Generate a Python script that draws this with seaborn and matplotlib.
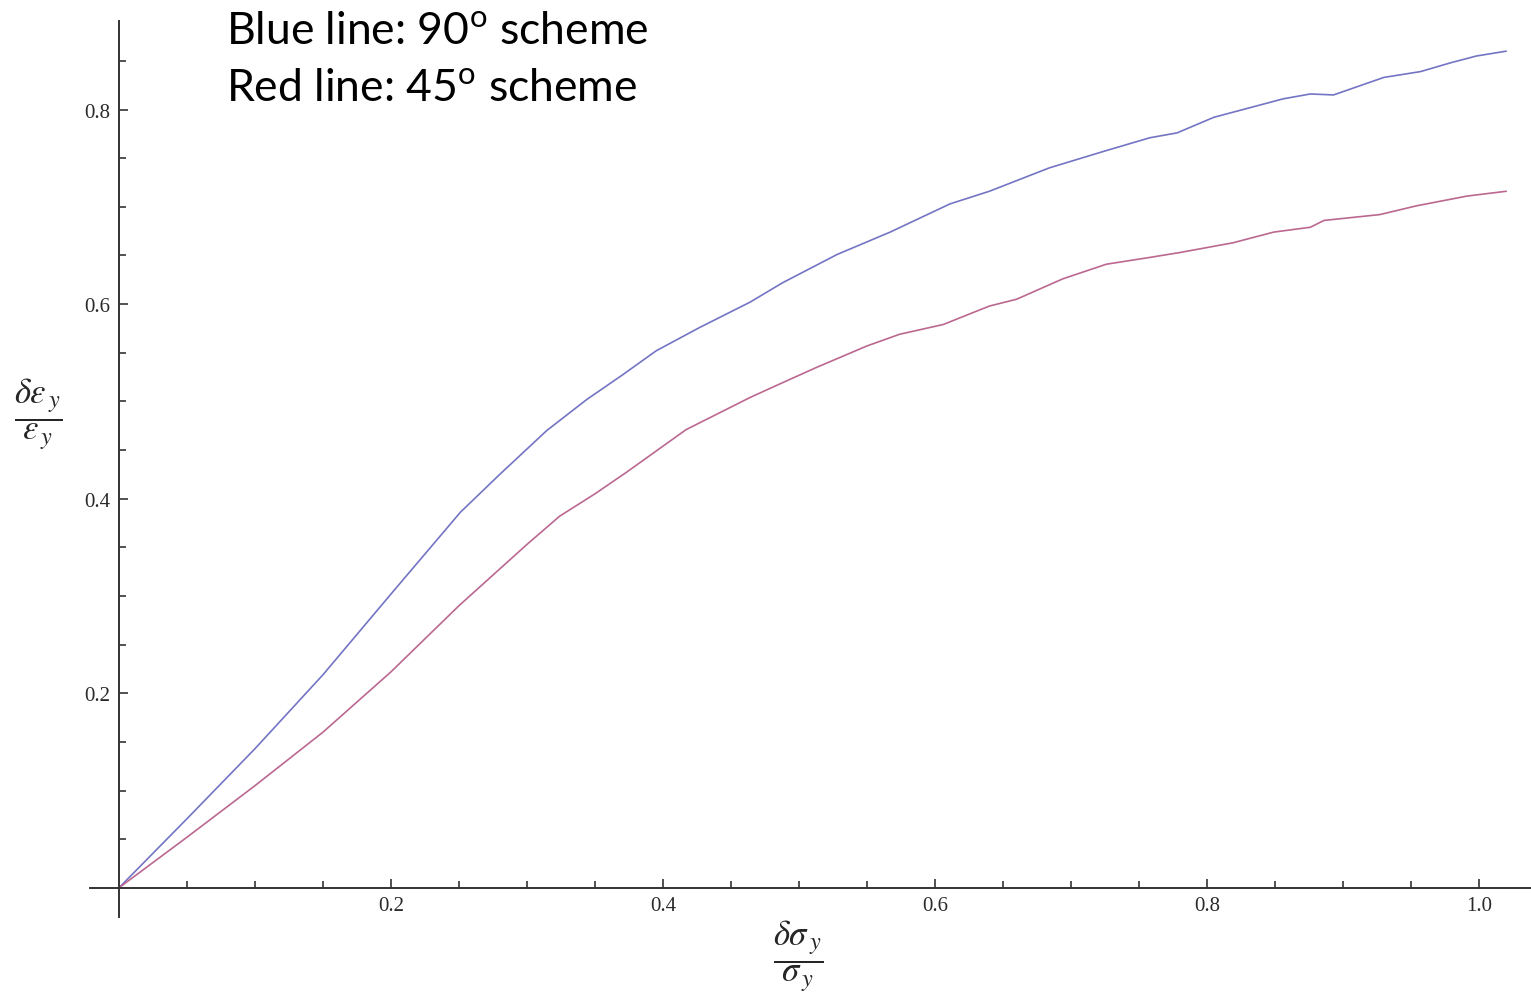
import matplotlib
matplotlib.use("Agg")
import matplotlib.pyplot as plt
import seaborn as sns
import pandas as pd
from matplotlib.ticker import FixedLocator, FixedFormatter

# values
blue_x = [0.0, 0.05, 0.10, 0.15, 0.20, 0.251, 0.280, 0.3145, 0.344, 0.370, 0.395,
          0.427, 0.464, 0.488, 0.528, 0.567, 0.611, 0.640, 0.684, 0.724, 0.758, 0.778,
          0.805, 0.856, 0.876, 0.893, 0.930, 0.957, 0.979, 0.998, 1.020]
blue_y = [0.0, 0.071, 0.143, 0.219, 0.302, 0.386, 0.425, 0.470, 0.502, 0.527, 0.552,
          0.576, 0.602, 0.622, 0.651, 0.674, 0.703, 0.716, 0.740, 0.757, 0.771, 0.776,
          0.792, 0.811, 0.816, 0.815, 0.833, 0.839, 0.848, 0.855, 0.860]

red_x = [0.0, 0.05, 0.10, 0.15, 0.20, 0.25, 0.30, 0.324, 0.350, 0.373, 0.417, 0.464,
         0.486, 0.513, 0.550, 0.574, 0.606, 0.640, 0.660, 0.694, 0.726, 0.758, 0.780,
         0.819, 0.849, 0.876, 0.886, 0.927, 0.954, 0.991, 1.020]
red_y = [0.0, 0.052, 0.105, 0.160, 0.222, 0.290, 0.353, 0.382, 0.405, 0.427, 0.471, 0.504,
         0.518, 0.535, 0.557, 0.569, 0.579, 0.598, 0.605, 0.626, 0.641, 0.648, 0.653,
         0.663, 0.674, 0.679, 0.686, 0.692, 0.701, 0.711, 0.716]

x_ticks = [0.2, 0.4, 0.6, 0.8, 1.0]
x_tick_labels = ["0.2", "0.4", "0.6", "0.8", "1.0"]
y_ticks = [0.2, 0.4, 0.6, 0.8]
y_tick_labels = ["0.2", "0.4", "0.6", "0.8"]
x_minor = [0.05, 0.1, 0.15, 0.25, 0.3, 0.35, 0.45, 0.5, 0.55, 0.65, 0.7, 0.75, 0.85, 0.9, 0.95]
y_minor = [0.05, 0.1, 0.15, 0.25, 0.3, 0.35, 0.45, 0.5, 0.55, 0.65, 0.7, 0.75, 0.85]

sns.set_theme(style="white")
plt.rcParams["font.family"] = ["Lato", "DejaVu Sans"]
plt.rcParams["mathtext.fontset"] = "custom"
plt.rcParams["mathtext.rm"] = "Lato"

df = pd.concat([
    pd.DataFrame({"x": blue_x, "y": blue_y, "scheme": "90"}),
    pd.DataFrame({"x": red_x, "y": red_y, "scheme": "45"}),
])

fig = plt.figure(figsize=(15.31, 10.03), dpi=100)
ax = fig.add_axes([90 / 1531, 85 / 1003, 1441 / 1531, 896 / 1003])

sns.lineplot(data=df, x="x", y="y", hue="scheme", estimator=None, sort=False,
             palette={"90": "#7474c4", "45": "#bb6890"}, linewidth=1.2,
             legend=False, ax=ax)

ax.set_xlim(-0.0213, 1.0382)
ax.set_ylim(-0.030, 0.891)
ax.set_xlabel("")
ax.set_ylabel("")

for side in ["top", "right"]:
    ax.spines[side].set_visible(False)
for side in ["left", "bottom"]:
    ax.spines[side].set_position(("data", 0))
    ax.spines[side].set_color("#333333")
    ax.spines[side].set_linewidth(1.4)

ax.xaxis.set_major_locator(FixedLocator(x_ticks))
ax.xaxis.set_major_formatter(FixedFormatter(x_tick_labels))
ax.xaxis.set_minor_locator(FixedLocator(x_minor))
ax.yaxis.set_major_locator(FixedLocator(y_ticks))
ax.yaxis.set_major_formatter(FixedFormatter(y_tick_labels))
ax.yaxis.set_minor_locator(FixedLocator(y_minor))

ax.tick_params(which="both", direction="in", color="#333333", width=1.2,
               bottom=True, left=True, labelcolor="#2a2a2a",
               labelsize=15, labelfontfamily="Liberation Serif")
ax.tick_params(which="major", length=6.5)
ax.tick_params(which="minor", length=5)
ax.tick_params(axis="x", pad=6)
ax.tick_params(axis="y", pad=6)

fig.text(38 / 1531, 1 - 414 / 1003, r"$\dfrac{\delta\varepsilon_{\,y}}{\varepsilon_{\,y}}$",
         math_fontfamily="stix", fontsize=25, ha="center", va="center")
fig.text(798 / 1531, 1 - 956 / 1003, r"$\dfrac{\delta\sigma_{\,y}}{\sigma_{\,y}}$",
         math_fontfamily="stix", fontsize=25, ha="center", va="center")

fig.text(226 / 1531, 1 - 44 / 1003, r"Blue line: 90$^{\mathrm{o}}$ scheme",
         fontsize=32, ha="left", va="baseline", color="black")
fig.text(226 / 1531, 1 - 101 / 1003, r"Red line: 45$^{\mathrm{o}}$ scheme",
         fontsize=32, ha="left", va="baseline", color="black")

fig.savefig("out.png", dpi=100, facecolor="white")
